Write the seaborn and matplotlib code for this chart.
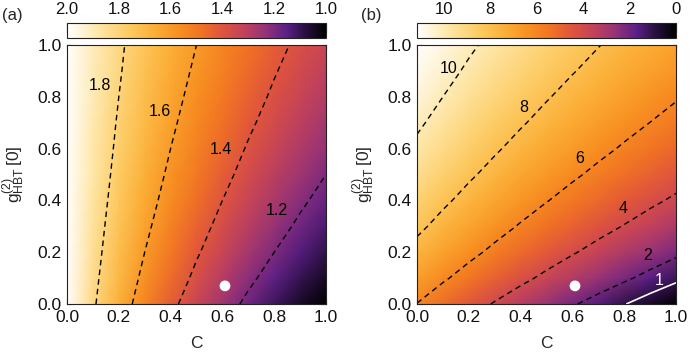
import numpy as np
import matplotlib
matplotlib.use("Agg")
import matplotlib.pyplot as plt
import seaborn as sns
from matplotlib.colors import LinearSegmentedColormap
from matplotlib.ticker import MultipleLocator

# grid (rows = g2_HBT[0] from 0 to 1, columns = C from 0 to 1)
C_GRID = [0.0, 0.1, 0.2, 0.3, 0.4, 0.5, 0.6, 0.7, 0.8, 0.9, 1.0]
G_GRID = [0.0, 0.1, 0.2, 0.3, 0.4, 0.5, 0.6, 0.7, 0.8, 0.9, 1.0]

PANEL_A = [
    [2.000, 1.818, 1.667, 1.538, 1.429, 1.333, 1.250, 1.176, 1.111, 1.053, 1.000],
    [2.000, 1.833, 1.692, 1.571, 1.467, 1.375, 1.294, 1.222, 1.158, 1.100, 1.048],
    [2.000, 1.846, 1.714, 1.600, 1.500, 1.412, 1.333, 1.263, 1.200, 1.143, 1.091],
    [2.000, 1.857, 1.733, 1.625, 1.529, 1.444, 1.368, 1.300, 1.238, 1.182, 1.130],
    [2.000, 1.867, 1.750, 1.647, 1.556, 1.474, 1.400, 1.333, 1.273, 1.217, 1.167],
    [2.000, 1.875, 1.765, 1.667, 1.579, 1.500, 1.429, 1.364, 1.304, 1.250, 1.200],
    [2.000, 1.882, 1.778, 1.684, 1.600, 1.524, 1.455, 1.391, 1.333, 1.280, 1.231],
    [2.000, 1.889, 1.789, 1.700, 1.619, 1.545, 1.478, 1.417, 1.360, 1.308, 1.259],
    [2.000, 1.895, 1.800, 1.714, 1.636, 1.565, 1.500, 1.440, 1.385, 1.333, 1.286],
    [2.000, 1.900, 1.810, 1.727, 1.652, 1.583, 1.520, 1.462, 1.407, 1.357, 1.310],
    [2.000, 1.905, 1.818, 1.739, 1.667, 1.600, 1.538, 1.481, 1.429, 1.379, 1.333],
]
PANEL_B = [
    [5.97, 5.24, 4.55, 3.90, 3.28, 2.68, 2.11, 1.57, 1.04, 0.53, 0.04],
    [6.86, 6.16, 5.51, 4.89, 4.30, 3.73, 3.19, 2.67, 2.17, 1.68, 1.21],
    [7.61, 6.95, 6.32, 5.73, 5.16, 4.62, 4.10, 3.60, 3.12, 2.66, 2.21],
    [8.26, 7.62, 7.02, 6.45, 5.90, 5.38, 4.89, 4.41, 3.95, 3.50, 3.07],
    [8.83, 8.21, 7.63, 7.08, 6.55, 6.05, 5.57, 5.11, 4.66, 4.23, 3.82],
    [9.33, 8.73, 8.17, 7.64, 7.13, 6.64, 6.18, 5.73, 5.30, 4.88, 4.48],
    [9.78, 9.20, 8.65, 8.14, 7.64, 7.17, 6.72, 6.29, 5.87, 5.46, 5.07],
    [10.18, 9.62, 9.09, 8.58, 8.11, 7.65, 7.21, 6.79, 6.38, 5.99, 5.61],
    [10.55, 10.00, 9.48, 8.99, 8.53, 8.08, 7.65, 7.24, 6.85, 6.46, 6.09],
    [10.88, 10.35, 9.84, 9.36, 8.91, 8.47, 8.06, 7.66, 7.27, 6.90, 6.54],
    [11.19, 10.66, 10.17, 9.71, 9.26, 8.84, 8.43, 8.04, 7.66, 7.29, 6.94],
]

LEVELS_A = [1.2, 1.4, 1.6, 1.8]
LEVELS_B = [2, 4, 6, 8, 10]
LEVEL_B_WHITE = [1]

# where the contour labels sit (C, g)
LABEL_POS_A = [(0.812, 0.363), (0.595, 0.597), (0.359, 0.742), (0.127, 0.842)]
LABEL_POS_B = [(0.889, 0.186), (0.797, 0.367), (0.629, 0.563), (0.413, 0.758), (0.121, 0.910)]
LABEL_POS_B_WHITE = [(0.936, 0.092)]

DOT_C = [0.61]
DOT_G = [0.07]

CB_TICKS_A = [2.0, 1.8, 1.6, 1.4, 1.2, 1.0]
CB_TICKS_B = [10, 8, 6, 4, 2, 0]
AXIS_TICKS = [0.0, 0.2, 0.4, 0.6, 0.8, 1.0]

sns.set_theme(style="ticks")
plt.rcParams.update({
    "font.family": ["Liberation Sans", "DejaVu Sans"],
    "mathtext.fontset": "custom",
    "mathtext.rm": "Liberation Sans",
    "axes.edgecolor": "#222222",
    "axes.linewidth": 0.8,
    "lines.dashed_pattern": [4.0, 3.0],
})

sunset = LinearSegmentedColormap.from_list("sunset", [
    (0.00, "#000000"),
    (0.08, "#28103f"),
    (0.15, "#5a1e86"),
    (0.23, "#943278"),
    (0.32, "#c4425a"),
    (0.41, "#e2563a"),
    (0.49, "#f27522"),
    (0.57, "#f89021"),
    (0.66, "#fbae35"),
    (0.76, "#fdca60"),
    (0.88, "#fee7a8"),
    (1.00, "#ffffff"),
])

fig = plt.figure(figsize=(6.92, 3.54), dpi=100)

panels = [
    dict(left=0.0968, Z=PANEL_A, vmin=1.0, vmax=2.0, levels=LEVELS_A, pos=LABEL_POS_A,
         cb_ticks=CB_TICKS_A, cb_minor=0.05, fmt="{:.1f}", tag="(a)", tag_x=0.003),
    dict(left=0.6026, Z=PANEL_B, vmin=0.0, vmax=11.15, levels=LEVELS_B, pos=LABEL_POS_B,
         cb_ticks=CB_TICKS_B, cb_minor=0.5, fmt="{:d}", tag="(b)", tag_x=0.522),
]

CC, GG = np.meshgrid(C_GRID, G_GRID)

for i, p in enumerate(panels):
    ax = fig.add_axes([p["left"], 0.1412, 0.3743, 0.7316])
    cax = fig.add_axes([p["left"], 0.8927, 0.3743, 0.0424])
    Z = np.array(p["Z"])

    pcm = ax.pcolormesh(CC, GG, Z, shading="gouraud", cmap=sunset,
                        vmin=p["vmin"], vmax=p["vmax"])
    ax.contour(CC, GG, Z, levels=p["levels"], colors="black",
               linewidths=1.0, linestyles="dashed")
    for lev, (x, y) in zip(p["levels"], p["pos"]):
        ax.text(x, y, p["fmt"].format(lev), ha="center", va="center",
                fontsize=11.5, color="black")
    if i == 1:
        ax.contour(CC, GG, Z, levels=LEVEL_B_WHITE, colors="white",
                   linewidths=1.2, linestyles="solid")
        for lev, (x, y) in zip(LEVEL_B_WHITE, LABEL_POS_B_WHITE):
            ax.text(x, y, str(lev), ha="center", va="center",
                    fontsize=11.5, color="white")

    sns.scatterplot(x=DOT_C, y=DOT_G, ax=ax, color="white", s=60,
                    edgecolor="none", zorder=5)

    ax.set_xlim(0, 1)
    ax.set_ylim(0, 1)
    ax.set_xticks(AXIS_TICKS)
    ax.set_yticks(AXIS_TICKS)
    ax.set_xticklabels([f"{t:.1f}" for t in AXIS_TICKS])
    ax.set_yticklabels([f"{t:.1f}" for t in AXIS_TICKS])
    ax.tick_params(direction="in", top=True, right=True, length=3.5,
                   width=0.8, labelsize=12.5, pad=4, colors="#111111")
    ax.set_xlabel("C", fontsize=12.5, labelpad=8)
    ax.set_ylabel(r"$\mathregular{g^{(2)}_{HBT}\,[0]}$", fontsize=12.5, labelpad=7)

    cb = fig.colorbar(pcm, cax=cax, orientation="horizontal")
    cb.outline.set_edgecolor("#222222")
    cb.outline.set_linewidth(0.8)
    cax.invert_xaxis()
    cb.set_ticks(p["cb_ticks"])
    cb.set_ticklabels([p["fmt"].format(t) for t in p["cb_ticks"]])
    cax.xaxis.set_minor_locator(MultipleLocator(p["cb_minor"]))
    cax.xaxis.set_ticks_position("top")
    cax.tick_params(which="major", direction="in", length=6.5, width=0.8,
                    labelsize=12, pad=4, colors="#111111")
    cax.tick_params(which="minor", direction="in", length=4, width=0.8,
                    colors="#111111")

    fig.text(p["tag_x"], 0.955, p["tag"], fontsize=12, ha="left", va="center")

fig.savefig("out.png", dpi=100)
